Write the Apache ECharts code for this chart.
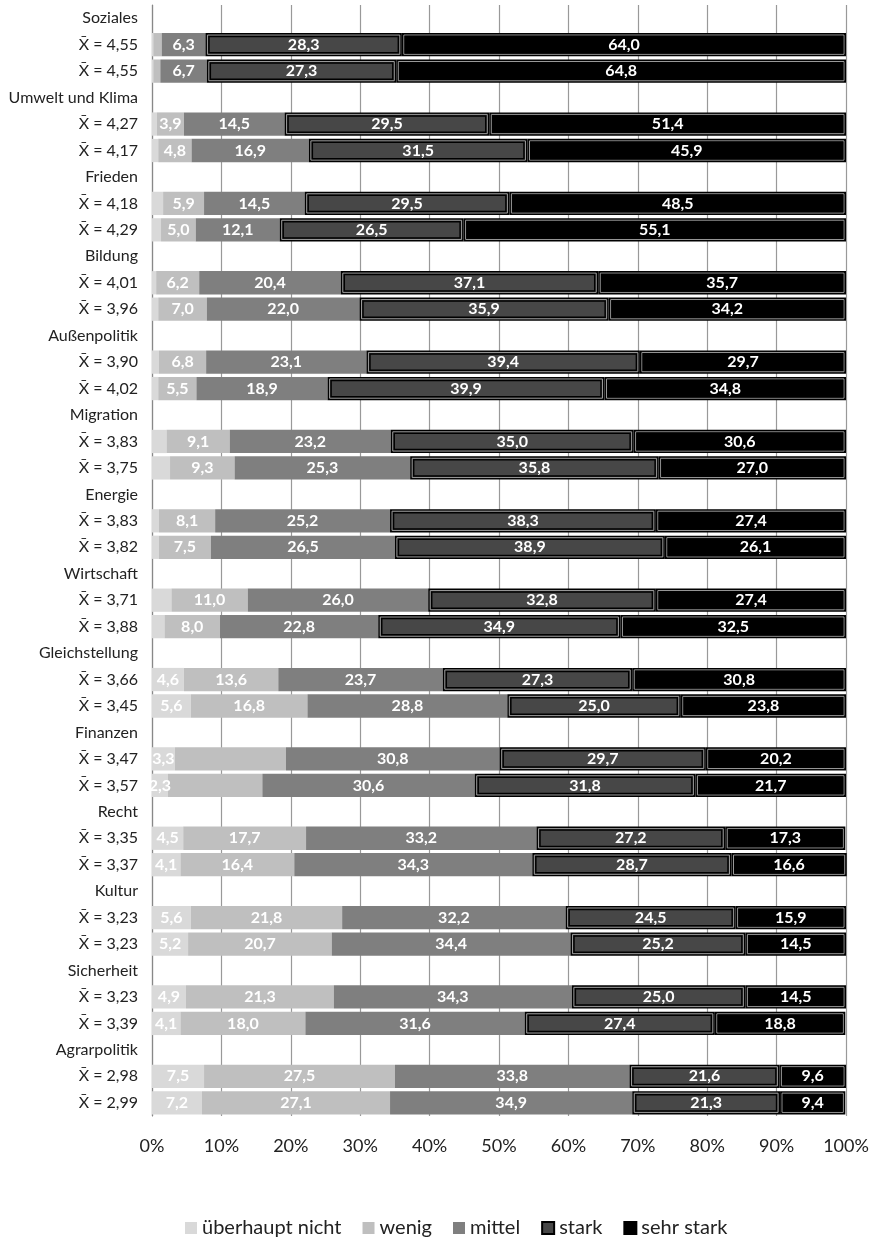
<html>
<head>
<meta charset="utf-8">
<script src="https://cdn.jsdelivr.net/npm/echarts@6/dist/echarts.min.js"></script>
</head>
<body>
<style>
    html, body, #main { width: 100%; height: 100%; margin: 0; background: #fff; }
</style>
<div id="main"></div>
<script>
var groups = ['Soziales', 'Umwelt und Klima', 'Frieden', 'Bildung', 'Außenpolitik', 'Migration', 'Energie',
    'Wirtschaft', 'Gleichstellung', 'Finanzen', 'Recht', 'Kultur', 'Sicherheit', 'Agrarpolitik'];
var means = ['4,55', '4,55', '4,27', '4,17', '4,18', '4,29', '4,01', '3,96', '3,90', '4,02', '3,83', '3,75',
    '3,83', '3,82', '3,71', '3,88', '3,66', '3,45', '3,47', '3,57', '3,35', '3,37', '3,23', '3,23',
    '3,23', '3,39', '2,98', '2,99'];
var ueberhaupt = [0.2, 0.2, 0.7, 0.9, 1.6, 1.3, 0.6, 0.9, 1.0, 0.9, 2.1, 2.6, 1.0, 1.0, 2.8, 1.8,
    4.6, 5.6, 3.3, 2.3, 4.5, 4.1, 5.6, 5.2, 4.9, 4.1, 7.5, 7.2];
var wenig = [1.2, 1.0, 3.9, 4.8, 5.9, 5.0, 6.2, 7.0, 6.8, 5.5, 9.1, 9.3, 8.1, 7.5, 11.0, 8.0,
    13.6, 16.8, 16.0, 13.6, 17.7, 16.4, 21.8, 20.7, 21.3, 18.0, 27.5, 27.1];
var mittel = [6.3, 6.7, 14.5, 16.9, 14.5, 12.1, 20.4, 22.0, 23.1, 18.9, 23.2, 25.3, 25.2, 26.5, 26.0, 22.8,
    23.7, 28.8, 30.8, 30.6, 33.2, 34.3, 32.2, 34.4, 34.3, 31.6, 33.8, 34.9];
var stark = [28.3, 27.3, 29.5, 31.5, 29.5, 26.5, 37.1, 35.9, 39.4, 39.9, 35.0, 35.8, 38.3, 38.9, 32.8, 34.9,
    27.3, 25.0, 29.7, 31.8, 27.2, 28.7, 24.5, 25.2, 25.0, 27.4, 21.6, 21.3];
var sehrStark = [64.0, 64.8, 51.4, 45.9, 48.5, 55.1, 35.7, 34.2, 29.7, 34.8, 30.6, 27.0, 27.4, 26.1, 27.4, 32.5,
    30.8, 23.8, 20.2, 21.7, 17.3, 16.6, 15.9, 14.5, 14.5, 18.8, 9.6, 9.4];
// bars whose segment carries no number in the original
var noLabelUeberhaupt = 16;      // first 16 bars
var noLabelWenig = [0, 1, 18, 19];

var rows = [];
var barRow = [];
groups.forEach(function (g, i) {
    rows.push(g);
    rows.push('X\u0304 = ' + means[2 * i]);
    rows.push('X\u0304 = ' + means[2 * i + 1]);
    barRow.push(3 * i + 1, 3 * i + 2);
});

function fmt(v) { return v.toFixed(1).replace('.', ','); }

function seriesData(values, hide) {
    var out = rows.map(function () { return '-'; });
    values.forEach(function (v, k) {
        var item = { value: v };
        if (hide(k)) item.label = { show: false };
        out[barRow[k]] = item;
    });
    return out;
}

var font = 'Lato';
var labelStyle = {
    show: true, position: 'inside', color: '#fff', fontFamily: font, fontWeight: 'bold', fontSize: 16,
    formatter: function (p) { return fmt(p.value); }
};

function bar(name, values, color, hide, border) {
    return {
        name: name, type: 'bar', stack: 'all', barCategoryGap: '12%',
        data: seriesData(values, hide),
        itemStyle: border ? { color: color, borderColor: '#000', borderWidth: 2 } : { color: color },
        label: labelStyle,
        emphasis: { disabled: true }
    };
}

// inner double-line frame of the "stark" / "sehr stark" segments
var frames = [];
stark.forEach(function (v, k) {
    var s = ueberhaupt[k] + wenig[k] + mittel[k];
    frames.push([barRow[k], s, s + v]);
    frames.push([barRow[k], s + v, s + v + sehrStark[k]]);
});

var chart = echarts.init(document.getElementById('main'));
chart.setOption({
    animation: false,
    grid: { left: 152, right: 28, top: 5, bottom: 125 },
    legend: {
        top: 1213, left: 180, itemWidth: 12, itemHeight: 12, itemGap: 21,
        textStyle: { fontFamily: font, fontSize: 20, color: '#222' },
        data: [
            { name: 'überhaupt nicht', icon: 'rect' },
            { name: 'wenig', icon: 'rect' },
            { name: 'mittel', icon: 'rect' },
            { name: 'stark', icon: 'rect' },
            { name: 'sehr stark', icon: 'rect' }
        ]
    },
    xAxis: {
        type: 'value', min: 0, max: 100, interval: 10,
        axisLabel: { formatter: '{value}%', fontFamily: font, fontSize: 18, color: '#222', margin: 21 },
        splitLine: { lineStyle: { color: '#999', width: 1.2 } },
        axisLine: { show: false }, axisTick: { show: false }
    },
    yAxis: {
        type: 'category', inverse: true, data: rows,
        axisLabel: { fontFamily: font, fontSize: 16, color: '#222', margin: 14 },
        axisLine: { lineStyle: { color: '#888', width: 1.2 } },
        axisTick: { show: false }
    },
    series: [
        bar('überhaupt nicht', ueberhaupt, '#d9d9d9', function (k) { return k < noLabelUeberhaupt; }),
        bar('wenig', wenig, '#bfbfbf', function (k) { return noLabelWenig.indexOf(k) >= 0 || wenig[k] < 2; }),
        bar('mittel', mittel, '#7f7f7f', function () { return false; }),
        bar('stark', stark, '#474747', function () { return false; }, true),
        bar('sehr stark', sehrStark, '#000', function () { return false; }, true),
        {
            type: 'custom', silent: true, z: 5, data: frames,
            renderItem: function (params, api) {
                var a = api.coord([api.value(1), api.value(0)]);
                var b = api.coord([api.value(2), api.value(0)]);
                var h = api.size([0, 1])[1] * 0.88;
                var y = a[1] - h / 2;
                return {
                    type: 'group',
                    children: [
                        { type: 'rect', shape: { x: a[0] + 2, y: y + 2, width: b[0] - a[0] - 4, height: h - 4 },
                          style: { fill: null, stroke: '#9a9a9a', lineWidth: 1 } },
                        { type: 'rect', shape: { x: a[0] + 3.5, y: y + 3.5, width: b[0] - a[0] - 7, height: h - 7 },
                          style: { fill: null, stroke: '#000', lineWidth: 1.5 } }
                    ]
                };
            }
        }
    ]
});
window.onresize = chart.resize;
</script>
</body>
</html>
